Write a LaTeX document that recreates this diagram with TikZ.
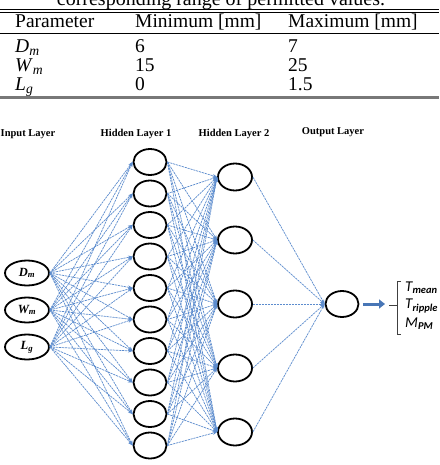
\documentclass[tikz,border=0pt]{standalone}
\usepackage{fontspec}
\setmainfont{Liberation Serif}
\newfontfamily\calfont{Carlito}
\usetikzlibrary{arrows.meta,shapes.geometric}
\definecolor{connc}{RGB}{92,140,206}
\definecolor{fatc}{RGB}{72,118,182}
\definecolor{rulegray}{RGB}{120,120,120}
\begin{document}
\begin{tikzpicture}[x=1pt,y=-1pt,
  neuron/.style={ellipse,draw=black,line width=1.8pt,minimum width=33pt,minimum height=26pt,inner sep=0pt},
  inneuron/.style={neuron,minimum width=44pt,minimum height=25pt},
  conn/.style={draw=connc,line width=0.7pt,dash pattern=on 2.2pt off 0.8pt,-{Stealth[length=4.5pt,width=3.5pt]}},
  tabtxt/.style={anchor=base west,inner sep=0pt,font=\fontsize{19.5}{19.5}\selectfont},
  layertitle/.style={anchor=base,inner sep=0pt,font=\bfseries\fontsize{10.5}{10.5}\selectfont},
  outlab/.style={anchor=west,inner sep=0pt,font=\calfont\itshape\fontsize{15}{15}\selectfont}]
\clip (0,0) rectangle (439,465);
\fill[white] (0,0) rectangle (439,465);
% caption (cut at top)
\node[anchor=base,inner sep=0pt,font=\fontsize{20}{20}\selectfont] (cap) at (221,5.5) {corresponding range of permitted values.};
% table rules
\draw[line width=1pt] (0,9.5) -- (439,9.5);
\draw[line width=1pt] (0,12.5) -- (439,12.5);
\draw[line width=0.8pt] (0,33.5) -- (439,33.5);
\draw[rulegray,line width=2.6pt] (0,97.5) -- (439,97.5);
% table text
\node[tabtxt] (h1) at (15,27.5) {Parameter};
\node[tabtxt] (h2) at (135,27.5) {Minimum [mm]};
\node[tabtxt] (h3) at (288,27.5) {Maximum [mm]};
\node[tabtxt] (r1a) at (15,52.5) {\textit{D}\textsubscript{\textit{m}}};
\node[tabtxt] (r1b) at (135,52.5) {6};
\node[tabtxt] (r1c) at (288,52.5) {7};
\node[tabtxt] (r2a) at (15,71.5) {\textit{W}\textsubscript{\textit{m}}};
\node[tabtxt] (r2b) at (135,71.5) {15};
\node[tabtxt] (r2c) at (288,71.5) {25};
\node[tabtxt] (r3a) at (15,90.5) {\textit{L}\textsubscript{\textit{g}}};
\node[tabtxt] (r3b) at (135,90.5) {0};
\node[tabtxt] (r3c) at (288,90.5) {1.5};
% layer titles
\node[layertitle] (t1) at (28,137) {Input Layer};
\node[layertitle] (t2) at (136,137) {Hidden Layer 1};
\node[layertitle] (t3) at (234,137) {Hidden Layer 2};
\node[layertitle] (t4) at (333,135) {Output Layer};
% input neurons
\node[inneuron] (i1) at (27,273) {\bfseries\itshape\fontsize{12.5}{12.5}\selectfont D\textsubscript{m}};
\node[inneuron] (i2) at (27,310) {\bfseries\itshape\fontsize{12.5}{12.5}\selectfont W\textsubscript{m}};
\node[inneuron] (i3) at (27,347) {\bfseries\itshape\fontsize{12.5}{12.5}\selectfont L\textsubscript{g}};
% hidden layer 1
\foreach \j in {1,...,10} {
  \node[neuron] (a\j) at (150,{162+(\j-1)*31.5}) {};
}
% hidden layer 2
\foreach \k/\yy in {1/177,2/240,3/304,4/368,5/432} {
  \node[neuron,minimum width=34pt,minimum height=27pt] (b\k) at (235,\yy) {};
}
% output neuron
\node[neuron] (o) at (342,304) {};
% connections
\foreach \i in {1,2,3} \foreach \j in {1,...,10} \draw[conn] (i\i.east) -- (a\j.west);
\foreach \j in {1,...,10} \foreach \k in {1,...,5} \draw[conn] (a\j.east) -- (b\k.west);
\foreach \k in {1,...,5} \draw[conn] (b\k.east) -- (o.west);
% thick output arrow
\coordinate (arrend) at (385,304);
\draw[fatc,line width=3pt,shorten <=3.5pt,-{Triangle[length=6pt,width=9pt]}] (o.east) -- (arrend);
% bracket
\coordinate (brtop) at (401,281);
\coordinate (brbot) at (401,334);
\coordinate (brmid) at (389,305);
\draw[black!75,line width=0.8pt] (brtop) -- (397,281) -- (397,334) -- (brbot);
\draw[black!75,line width=0.8pt] (brmid) -- (397,305);
% output labels
\node[outlab] (l1) at (405,288) {T\textsubscript{\bfseries mean}};
\node[outlab] (l2) at (405,306) {T\textsubscript{\bfseries ripple}};
\node[outlab] (l3) at (405,324) {M\textsubscript{\bfseries PM}};
\end{tikzpicture}
\end{document}
